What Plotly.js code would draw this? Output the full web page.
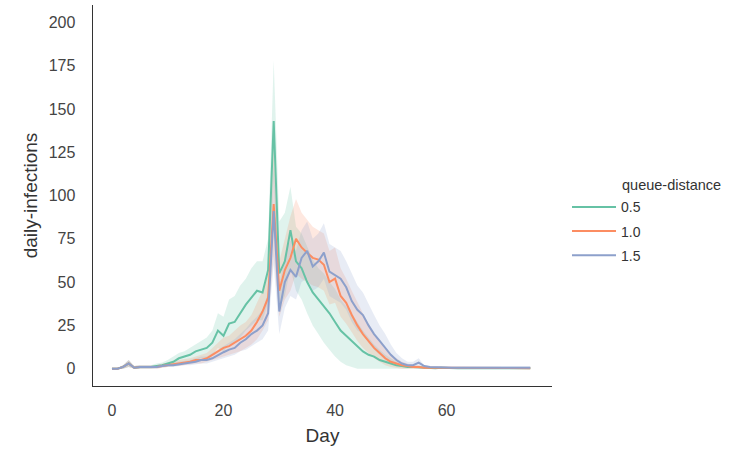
<!DOCTYPE html>
<html>
<head>
<meta charset="utf-8">
<script src="https://cdn.plot.ly/plotly-3.0.1.min.js"></script>
<style>html,body{margin:0;padding:0;background:#fff;}#chart{width:729px;height:449px;}</style>
</head>
<body>
<div id="chart"></div>
<script>
const days = Array.from({length: 76}, (_, i) => i);
const seriesNames = ["0.5", "1.0", "1.5"];
const legendTitle = "queue-distance";
const xTitle = "Day";
const yTitle = "daily-infections";
const xTickVals = [0, 20, 40, 60];
const yTickVals = [0, 25, 50, 75, 100, 125, 150, 175, 200];

const green_mean = [0,0,1,3,0.5,1,1,1,1.5,2, 3,4,6,7,8,10,11,12,15,22, 19,26,27,32,37,41,45,44,57,143, 55,62,80,62,58,50,44,40,36,32, 27,22,19,16,13,10,8,7,5,4, 3,2,1.5,1,1,0.8, 0.5,0.5,0.3,0.5,0.3,0.3,0.2,0.3,0.2,0.2,0.3,0.2,0.2,0.2,0.2,0.2,0.2,0.2,0.2,0.2];
const green_lo = [0,0,0,1,0,0,0,0,0.5,1, 1.5,2,3,4,4,5,6,6,8,12, 10,14,15,18,22,25,28,28,38,110, 35,42,58,45,40,32,25,20,15,11, 7,4,2,1,0,0,0,0,0,0, 0,0,0,0,0,0, 0,0,0,0,0,0,0,0,0,0,0,0,0,0,0,0,0,0,0,0];
const green_hi = [0.5,0.5,2,5,1.5,2,2,2,3,3.5, 5,7,9,10,12,14,16,18,22,32, 30,40,42,48,52,58,62,62,75,178, 85,90,105,82,78,70,63,58,55,50, 46,40,36,32,27,22,18,14,11,8, 6,4,3,2,2,1.5, 1,1,1,1,1,1,1,1,1,1,1,1,1,1,1,1,1,1,1,1];

const orange_mean = [0,0,1,3,0.5,1,1,1,1,1.5, 2,2.5,3,3.5,4,5,5,6,8,10, 12,13,15,17,19,22,27,33,41,95, 45,57,64,75,70,67,64,63,60,50, 52,42,38,31,25,20,16,12,9,6, 4,3,2,1.5,1,1, 0.5,0.5,0.5,0.3,0.5,0.3,0.3,0.3,0.3,0.3,0.3,0.3,0.3,0.3,0.3,0.3,0.3,0.3,0.3,0.3];
const orange_lo = [0,0,0,1,0,0,0,0,0,0.5, 1,1.5,1.5,2,2.5,3,3,4,5,6, 7,8,9,10,12,14,17,22,28,65, 30,40,45,55,52,50,48,47,45,37, 38,30,26,21,16,12,9,6,4,2, 1,0.5,0,0,0,0, 0,0,0,0,0,0,0,0,0,0,0,0,0,0,0,0,0,0,0,0];
const orange_hi = [0.5,0.5,2,5,1.5,2,2,2,2,3, 3.5,4,5,5.5,6,7,8,9,12,15, 18,19,22,25,27,31,38,45,56,130, 62,75,88,98,90,86,82,80,78,68, 70,58,52,45,38,32,26,20,16,11, 8,6,4,3,2,2, 1,1,1,1,1,1,1,1,1,1,1,1,1,1,1,1,1,1,1,1];

const blue_mean = [0,0,1,3,0.5,1,1,1,1,1.5, 2,2,2.5,3,3.5,4,5,5,6,8, 9.5,11,12,15,17,20,22,25,32,91, 33,50,57,53,64,68,59,62,67,56, 54,52,47,39,34,31,25,20,16,12, 8,5,3,2,2,3.5, 1.5,1,0.8,1,0.5,0.5,0.5,0.5,0.5,0.5,0.5,0.5,0.5,0.5,0.5,0.5,0.5,0.5,0.5,0.5];
const blue_lo = [0,0,0,1,0,0,0,0,0,0.5, 1,1,1.5,2,2,2.5,3,3,4,5, 6,7,8,10,11,13,15,17,22,60, 20,35,42,40,50,52,45,47,52,42, 40,38,34,27,22,20,15,11,8,5, 3,2,1,0.5,0.5,1, 0,0,0,0,0,0,0,0,0,0,0,0,0,0,0,0,0,0,0,0];
const blue_hi = [0.5,0.5,2,5,1.5,2,2,2,2,2.5, 3,3.5,4,4.5,5,6,7,7,9,11, 13,15,17,20,23,27,30,34,44,120, 48,66,74,68,80,85,75,78,84,72, 70,68,62,55,48,44,37,31,25,20, 14,9,6,4,4,6, 2,1.5,1.5,1.5,1.5,1.5,1.5,1.5,1.5,1.5,1.5,1.5,1.5,1.5,1.5,1.5,1.5,1.5,1.5,1.5];

const colors = ["#66c2a5", "#fc8d62", "#8da0cb"];
const fills = ["rgba(102,194,165,0.2)", "rgba(252,141,98,0.2)", "rgba(141,160,203,0.2)"];
const means = [green_mean, orange_mean, blue_mean];
const los = [green_lo, orange_lo, blue_lo];
const his = [green_hi, orange_hi, blue_hi];

const traces = [];
for (let i = 0; i < 3; i++) {
  traces.push({x: days, y: his[i], type: 'scatter', mode: 'lines', line: {width: 0, color: colors[i]}, showlegend: false, hoverinfo: 'skip'});
  traces.push({x: days, y: los[i], type: 'scatter', mode: 'lines', line: {width: 0, color: colors[i]}, fill: 'tonexty', fillcolor: fills[i], showlegend: false, hoverinfo: 'skip'});
}
for (let i = 0; i < 3; i++) {
  traces.push({x: days, y: means[i], type: 'scatter', mode: 'lines', name: seriesNames[i], legendgroup: 'g' + i, line: {width: 2, color: colors[i]}});
}

const font = "Liberation Sans, Arial, sans-serif";
const layout = {
  width: 729, height: 449,
  margin: {l: 93, r: 177, t: 5, b: 63},
  paper_bgcolor: '#fff', plot_bgcolor: '#fff',
  font: {family: font, color: '#333'},
  showlegend: true,
  legend: {
    font: {size: 14, color: '#333'},
    x: 1.0327, xanchor: 'left', y: 0.511, yanchor: 'top',
    itemwidth: 44,
    traceorder: 'grouped', tracegroupgap: 3,
    bgcolor: 'rgba(0,0,0,0)'
  },
  annotations: [{
    text: legendTitle, xref: 'paper', yref: 'paper',
    x: (620 - 93) / 459, y: (386 - 185) / 381, xanchor: 'left', yanchor: 'middle',
    showarrow: false, font: {size: 14.5, color: '#333', family: font}
  }],
  xaxis: {
    range: [-3.4, 78.9], showgrid: false, zeroline: false,
    showline: true, linecolor: '#333', linewidth: 1.4,
    ticks: '', tickvals: xTickVals, tickfont: {size: 16, color: '#444'},
    ticklabelstandoff: 9,
    title: {text: xTitle, font: {size: 19, color: '#333'}, standoff: 11}
  },
  yaxis: {
    range: [-10, 210], showgrid: false, zeroline: false,
    showline: true, linecolor: '#333', linewidth: 1.4,
    ticks: '', tickvals: yTickVals, tickfont: {size: 16, color: '#444'},
    ticklabelstandoff: 13,
    title: {text: yTitle, font: {size: 19, color: '#333'}, standoff: 6}
  }
};
Plotly.newPlot('chart', traces, layout, {displayModeBar: false, staticPlot: true});
</script>
</body>
</html>
